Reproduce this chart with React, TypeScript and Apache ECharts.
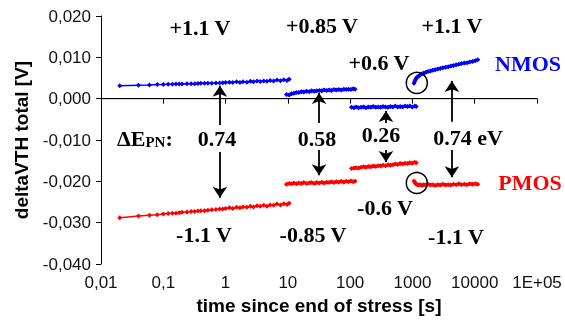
import React, { useEffect, useRef } from "react";
import * as echarts from "echarts";

const xTicks = ["0,01", "0,1", "1", "10", "100", "1000", "10000", "1E+05"];

const tA = [0.02, 0.04, 0.06, 0.08, 0.1, 0.12, 0.14, 0.16, 0.18, 0.2, 0.24, 0.28, 0.32, 0.36, 0.4, 0.46, 0.52, 0.6, 0.7, 0.8, 0.9, 1.0, 1.15, 1.3, 1.5, 1.7, 1.9, 2.2, 2.5, 2.8, 3.2, 3.6, 4.1, 4.6, 5.2, 5.9, 6.7, 7.6, 8.6, 9.7, 10.5];
const nA = [0.0031, 0.00325, 0.0033, 0.0034, 0.00345, 0.0035, 0.0035, 0.00353, 0.00355, 0.00357, 0.0036, 0.0036, 0.00362, 0.00365, 0.0037, 0.0037, 0.0037, 0.00375, 0.0038, 0.0038, 0.00385, 0.0039, 0.0040, 0.00392, 0.0041, 0.0039, 0.00412, 0.0040, 0.0042, 0.00408, 0.0043, 0.00415, 0.0043, 0.0042, 0.0044, 0.00428, 0.0045, 0.00435, 0.0046, 0.0044, 0.0047];
const pA = [-0.0288, -0.0284, -0.0282, -0.0281, -0.0279, -0.0278, -0.0277, -0.0277, -0.0276, -0.0275, -0.0274, -0.0273, -0.0273, -0.0272, -0.0271, -0.0271, -0.0270, -0.0269, -0.0268, -0.0267, -0.0267, -0.0266, -0.0264, -0.0266, -0.0263, -0.0264, -0.0262, -0.0263, -0.0260, -0.0262, -0.0259, -0.0260, -0.0258, -0.0260, -0.0257, -0.0258, -0.0255, -0.0257, -0.0254, -0.0256, -0.0253];

const tB = [9.5, 10.5, 11.5, 12.5, 13.7, 15, 16.5, 18, 20, 22, 24, 26.5, 29, 32, 35, 38, 42, 46, 50, 55, 60, 66, 72, 79, 86, 94, 103, 112, 120];
const nB = [0.0010, 0.0009, 0.0012, 0.0013, 0.0015, 0.0015, 0.0017, 0.0016, 0.0018, 0.0017, 0.0019, 0.0018, 0.0019, 0.0020, 0.0019, 0.0021, 0.0020, 0.0021, 0.0020, 0.0022, 0.0021, 0.0022, 0.0021, 0.0023, 0.0022, 0.0023, 0.0022, 0.0024, 0.0023];
const pB = [-0.0207, -0.0205, -0.0206, -0.0204, -0.0206, -0.0204, -0.0205, -0.0203, -0.0205, -0.0204, -0.0203, -0.0205, -0.0203, -0.0204, -0.0202, -0.0204, -0.0202, -0.0203, -0.0201, -0.0203, -0.0201, -0.0202, -0.0200, -0.0202, -0.0200, -0.0201, -0.0199, -0.0201, -0.0200];

const tC = [105, 115, 125, 137, 150, 165, 180, 197, 215, 235, 258, 282, 309, 338, 370, 405, 443, 485, 530, 580, 635, 695, 760, 830, 910, 995, 1090, 1150];
const nC = [-0.0021, -0.0022, -0.0020, -0.0022, -0.0021, -0.0020, -0.0022, -0.0020, -0.0021, -0.0019, -0.0021, -0.0020, -0.0021, -0.0019, -0.0020, -0.0021, -0.0019, -0.0020, -0.0018, -0.0020, -0.0019, -0.0020, -0.0018, -0.0019, -0.0018, -0.0020, -0.0018, -0.0019];
const pC = [-0.0169, -0.0168, -0.0167, -0.0168, -0.0166, -0.0165, -0.0166, -0.0164, -0.0165, -0.0163, -0.0164, -0.0162, -0.0163, -0.0161, -0.0162, -0.0160, -0.0161, -0.0160, -0.0158, -0.0159, -0.0157, -0.0158, -0.0156, -0.0157, -0.0155, -0.0156, -0.0154, -0.0155];

const tD = [1060, 1090, 1120, 1160, 1210, 1270, 1340, 1420, 1520, 1640, 1780, 1940, 2120, 2320, 2550, 2800, 3080, 3400, 3750, 4140, 4570, 5050, 5580, 6170, 6820, 7540, 8340, 9220, 10200, 11200];
const nD = [0.0037, 0.0042, 0.0046, 0.0050, 0.0053, 0.0055, 0.0058, 0.0060, 0.0062, 0.0064, 0.0066, 0.0067, 0.0069, 0.0070, 0.0072, 0.0073, 0.0075, 0.0076, 0.0077, 0.0079, 0.0080, 0.0082, 0.0083, 0.0085, 0.0086, 0.0087, 0.0089, 0.0090, 0.0092, 0.0094];
const pD = [-0.0199, -0.0202, -0.0205, -0.0207, -0.0208, -0.0209, -0.0208, -0.0210, -0.0208, -0.0209, -0.0207, -0.0209, -0.0208, -0.0210, -0.0208, -0.0209, -0.0207, -0.0209, -0.0208, -0.0209, -0.0207, -0.0208, -0.0206, -0.0208, -0.0207, -0.0208, -0.0206, -0.0207, -0.0206, -0.0207];

const BLUE = "#0000ff";
const RED = "#ff0000";
const SERIF = "'Liberation Serif', 'Times New Roman', serif";
const SANS = "'Liberation Sans', Arial, sans-serif";

function pairs(t: number[], v: number[]) {
  return t.map((x, i) => [x, v[i]]);
}

function seg(name: string, t: number[], v: number[], color: string, width: number) {
  return {
    name,
    type: "line",
    data: pairs(t, v),
    symbol: "diamond",
    symbolSize: 5,
    itemStyle: { color },
    lineStyle: { color, width },
    z: 3,
  };
}

function arrow(x: number, y0: number, y1: number) {
  return [{ coord: [x, y0] }, { coord: [x, y1] }];
}

function txt(text: string, x: number, y: number, color = "#000", size = 22) {
  return {
    type: "text",
    x,
    y,
    style: {
      text,
      fill: color,
      font: `bold ${size}px ${SERIF}`,
      align: "center",
      verticalAlign: "middle",
    },
  };
}

export default function App() {
  const ref = useRef<HTMLDivElement>(null);
  useEffect(() => {
    if (!ref.current) return;
    const chart = echarts.init(ref.current, undefined, { renderer: "svg" });
    chart.setOption({
      animation: false,
      grid: { left: 101, right: 28, top: 16, bottom: 58 },
      xAxis: {
        type: "log",
        logBase: 10,
        min: 0.01,
        max: 100000,
        name: "time since end of stress [s]",
        nameLocation: "middle",
        nameGap: 30,
        nameTextStyle: { fontFamily: SANS, fontWeight: "bold", fontSize: 19, color: "#000" },
        axisLine: { lineStyle: { color: "#000", width: 1 } },
        axisTick: { show: true, length: 5, lineStyle: { color: "#000" } },
        minorTick: { show: false },
        splitLine: { show: false },
        axisLabel: {
          fontFamily: SANS,
          fontSize: 17,
          color: "#111",
          margin: 10,
          formatter: (v: number) => {
            const k = Math.round(Math.log10(v)) + 2;
            return xTicks[k] ?? "";
          },
        },
      },
      yAxis: {
        type: "value",
        min: -0.04,
        max: 0.02,
        interval: 0.01,
        name: "deltaVTH total [V]",
        nameLocation: "middle",
        nameGap: 70,
        nameTextStyle: { fontFamily: SANS, fontWeight: "bold", fontSize: 19, color: "#000" },
        axisLine: { show: true, lineStyle: { color: "#000", width: 1 } },
        axisTick: { show: true, length: 5, lineStyle: { color: "#000" } },
        splitLine: { show: false },
        axisLabel: {
          fontFamily: SANS,
          fontSize: 17,
          color: "#111",
          margin: 10,
          formatter: (v: number) => {
            const s = (Math.abs(v) < 1e-9 ? 0 : v).toFixed(3);
            return s.replace(".", ",");
          },
        },
      },
      series: [
        {
          name: "zero",
          type: "line",
          data: [
            [0.01, 0],
            [100000, 0],
          ],
          symbol: "none",
          lineStyle: { color: "#000", width: 1 },
          z: 2,
          silent: true,
          markLine: {
            silent: true,
            symbol: ["none", "arrow"],
            symbolSize: 11,
            label: { show: false },
            lineStyle: { color: "#000", width: 1.8, type: "solid" },
            data: [
              arrow(0.81, -0.0064, 0.0031),
              arrow(0.81, -0.0129, -0.024),
              arrow(31.7, -0.0059, 0.0014),
              arrow(31.7, -0.0124, -0.0185),
              arrow(376, -0.0059, -0.003),
              arrow(376, -0.0124, -0.0153),
              arrow(4300, -0.0056, 0.0043),
              arrow(4300, -0.0124, -0.019),
            ],
          },
          markPoint: {
            silent: true,
            symbol: "circle",
            symbolSize: 21,
            label: { show: false },
            itemStyle: { color: "rgba(0,0,0,0)", borderColor: "#000", borderWidth: 1.5 },
            data: [{ coord: [1175, 0.0038] }, { coord: [1175, -0.0204] }],
          },
        },
        seg("NMOS +1.1 V", tA, nA, BLUE, 1.5),
        seg("NMOS +0.85 V", tB, nB, BLUE, 3),
        seg("NMOS +0.6 V", tC, nC, BLUE, 3),
        seg("NMOS +1.1 V b", tD, nD, BLUE, 3),
        seg("PMOS -1.1 V", tA, pA, RED, 1.5),
        seg("PMOS -0.85 V", tB, pB, RED, 3),
        seg("PMOS -0.6 V", tC, pC, RED, 3),
        seg("PMOS -1.1 V b", tD, pD, RED, 3),
      ],
      graphic: [
        txt("+1.1 V", 200, 27),
        txt("+0.85 V", 322, 25),
        txt("+0.6 V", 379, 62),
        txt("+1.1 V", 452, 25),
        txt("NMOS", 528, 63, BLUE),
        txt("0.74", 217, 138),
        txt("0.58", 317, 138),
        txt("0.26", 381, 134),
        txt("0.74 eV", 468, 137),
        txt("PMOS", 530, 182, RED),
        txt("-1.1 V", 204, 234),
        txt("-0.85 V", 313, 234),
        txt("-0.6 V", 385, 207),
        txt("-1.1 V", 456, 236),
        {
          type: "text",
          x: 117,
          y: 138,
          style: {
            text: "{a|ΔE}{b|PN}{a|:}",
            align: "left",
            verticalAlign: "middle",
            rich: {
              a: { font: `bold 22px ${SERIF}`, fill: "#000" },
              b: { font: `bold 15px ${SERIF}`, fill: "#000", padding: [8, 0, 0, 0] },
            },
          },
        },
      ],
    });
    return () => chart.dispose();
  }, []);
  return (
    <div
      ref={ref}
      style={{ position: "fixed", left: 0, top: 0, width: 565, height: 322 }}
    />
  );
}
